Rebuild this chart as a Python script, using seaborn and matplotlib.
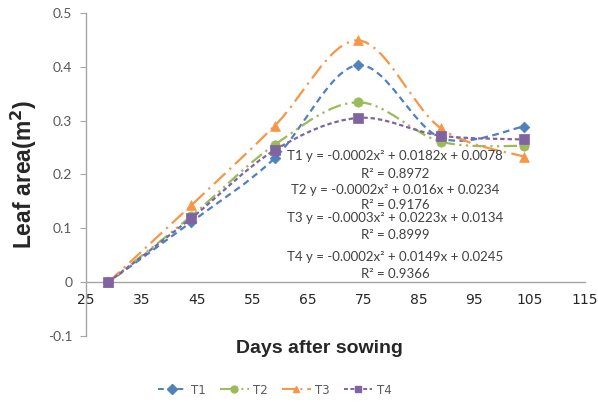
import numpy as np
import pandas as pd
import matplotlib
matplotlib.use("Agg")
import matplotlib.pyplot as plt
import seaborn as sns
from matplotlib.path import Path
from matplotlib.patches import PathPatch
from matplotlib.lines import Line2D

# data
days = [29, 44, 59, 74, 89, 104]
t1 = [0.0, 0.112, 0.230, 0.403, 0.268, 0.289]
t2 = [0.0, 0.123, 0.255, 0.334, 0.261, 0.253]
t3 = [0.0, 0.143, 0.290, 0.449, 0.286, 0.233]
t4 = [0.0, 0.119, 0.245, 0.305, 0.272, 0.265]
names = ["T1", "T2", "T3", "T4"]
equations = ["T1 y = -0.0002x² + 0.0182x + 0.0078", "R² = 0.8972",
             "T2 y = -0.0002x² + 0.016x + 0.0234", "R² = 0.9176",
             "T3 y = -0.0003x² + 0.0223x + 0.0134", "R² = 0.8999",
             "T4 y = -0.0002x² + 0.0149x + 0.0245", "R² = 0.9366"]
eq_y = [0.235, 0.200, 0.172, 0.143, 0.120, 0.088, 0.047, 0.015]
xticks = [25, 35, 45, 55, 65, 75, 85, 95, 105, 115]
yticks = [-0.1, 0, 0.1, 0.2, 0.3, 0.4, 0.5]
ytick_labels = ["-0.1", "0", "0.1", "0.2", "0.3", "0.4", "0.5"]

colors = {"T1": "#4F81BD", "T2": "#9BBB59", "T3": "#F79646", "T4": "#8064A2"}
markers = {"T1": "D", "T2": "o", "T3": "^", "T4": "s"}
styles = {"T1": (0, (3, 2)), "T2": (0, (6, 2, 1, 2, 1, 2)),
          "T3": (0, (7, 2.5, 1, 2.5)), "T4": (0, (2, 1.3))}
sizes = {"T1": 30, "T2": 45, "T3": 50, "T4": 60}

df = pd.DataFrame({"Day": days * 4,
                   "Area": t1 + t2 + t3 + t4,
                   "Series": [n for n in names for _ in days]})

sns.set_style("white")
fig = plt.figure(figsize=(5.98, 4.03), dpi=100)
ax = fig.add_axes([0.144, 0.166, 0.834, 0.802])


def smooth_path(xs, ys):
    # excel style smoothed line: cubic bezier through the points
    p = np.column_stack([xs, ys]).astype(float)
    ext = np.vstack([p[0], p, p[-1]])
    verts = [p[0]]
    codes = [Path.MOVETO]
    for i in range(len(p) - 1):
        c1 = ext[i + 1] + (ext[i + 2] - ext[i]) / 6.0
        c2 = ext[i + 2] - (ext[i + 3] - ext[i + 1]) / 6.0
        verts += [c1, c2, ext[i + 2]]
        codes += [Path.CURVE4] * 3
    return Path(verts, codes)


for n in names:
    sub = df[df["Series"] == n]
    patch = PathPatch(smooth_path(sub["Day"], sub["Area"]), fill=False,
                      edgecolor=colors[n], lw=1.6, linestyle=styles[n], zorder=2)
    ax.add_patch(patch)

for n in names:
    sub = df[df["Series"] == n]
    sns.scatterplot(data=sub, x="Day", y="Area", ax=ax, color=colors[n],
                    marker=markers[n], s=sizes[n], edgecolor=colors[n],
                    linewidth=0.5, zorder=3, legend=False)

for txt, yy in zip(equations, eq_y):
    ax.text(80.8, yy, txt, ha="center", va="center", fontsize=9.5,
            color="#404040", family="Lato")

ax.set_xlim(25, 115)
ax.set_ylim(-0.1, 0.5)
ax.set_xticks(xticks)
ax.set_xticklabels([str(t) for t in xticks], fontsize=10, color="#595959", family="Lato")
ax.set_yticks(yticks)
ax.set_yticklabels(ytick_labels, fontsize=10, color="#595959", family="Lato")
ax.spines["bottom"].set_position(("data", 0))
ax.spines["top"].set_visible(False)
ax.spines["right"].set_visible(False)
for s in ["left", "bottom"]:
    ax.spines[s].set_color("#A6A6A6")
    ax.spines[s].set_linewidth(1.0)
ax.tick_params(axis="x", direction="in", length=4, color="#A6A6A6", pad=8)
ax.tick_params(axis="y", direction="out", length=4, color="#A6A6A6", pad=6, left=True)
ax.set_xlabel("")
ax.set_ylabel("Leaf area(m$^\\mathbf{2}$)", fontsize=16.5, fontweight="bold",
              family="Liberation Sans", labelpad=6)
fig.text(0.535, 0.135, "Days after sowing", ha="center", va="center",
         fontsize=14, fontweight="bold", family="Liberation Sans")

handles = [Line2D([0], [0], color=colors[n], lw=1.4, linestyle=styles[n],
                  marker=markers[n], markersize=5) for n in names]
fig.legend(handles, names, loc="center", bbox_to_anchor=(0.46, 0.032), ncol=4,
           frameon=False, fontsize=8.5, handlelength=2.4, handletextpad=0.4,
           columnspacing=1.2, labelcolor="#595959")

fig.savefig("out.png", dpi=100)
